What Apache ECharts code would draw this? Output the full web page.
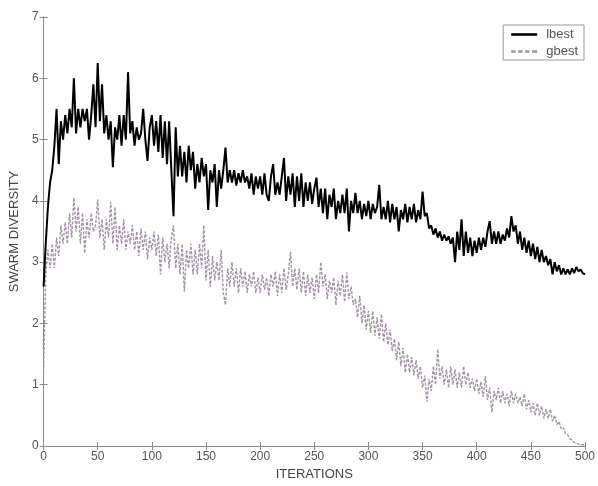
<!DOCTYPE html>
<html>
<head>
<meta charset="utf-8">
<script src="https://cdn.jsdelivr.net/npm/echarts@6/dist/echarts.min.js"></script>
<style>
  html, body { margin: 0; padding: 0; background: #fff; }
  #chart { width: 598px; height: 486px; }
</style>
</head>
<body>
<div id="chart"></div>
<script>
// iterations sampled every 2 steps
var step = 2;
var lbest = [
  2.6, 3.3, 3.9, 4.3, 4.5, 4.9, 5.5, 4.6, 5.3, 5.0,
  5.4, 5.1, 5.5, 5.2, 6.0, 5.1, 5.5, 5.2, 5.5, 5.3,
  5.5, 5.0, 5.4, 5.9, 5.2, 6.25, 5.3, 5.9, 5.1, 5.4,
  5.0, 5.3, 4.55, 5.2, 5.0, 5.4, 4.9, 5.4, 5.0, 6.1,
  5.1, 5.3, 4.9, 5.2, 5.0, 5.1, 5.5, 5.0, 4.65, 5.2,
  5.4, 4.9, 5.3, 4.8, 5.4, 4.7, 5.3, 4.6, 5.3, 4.5,
  3.75, 5.2, 4.4, 4.9, 4.4, 4.8, 4.3, 4.9, 4.5, 4.8,
  4.2, 4.6, 4.3, 4.7, 4.4, 4.6, 3.85, 4.5, 4.3, 4.6,
  3.9, 4.5, 4.2, 4.5, 4.87, 4.3, 4.5, 4.3, 4.5, 4.25,
  4.45, 4.3, 4.5, 4.3, 4.4, 4.2, 4.45, 4.1, 4.4, 4.2,
  4.4, 4.1, 4.45, 4.1, 4.0, 4.4, 4.6, 4.1, 4.3, 4.1,
  4.4, 4.7, 4.0, 4.4, 4.1, 4.45, 3.9, 4.4, 4.0, 4.45,
  3.9, 4.3, 4.0, 4.3, 3.95, 4.2, 4.38, 3.9, 4.2, 3.8,
  4.2, 3.7, 4.1, 3.9, 4.2, 3.7, 4.0, 3.8, 4.1, 3.8,
  4.2, 3.5, 4.0, 3.8, 4.13, 3.8, 4.0, 3.7, 3.95, 3.75,
  4.0, 3.7, 3.95, 3.8, 3.9, 4.26, 3.7, 3.9, 3.7, 4.0,
  3.65, 3.95, 3.7, 3.9, 3.5, 3.85, 3.7, 3.95, 3.65, 3.9,
  3.7, 3.95, 3.65, 3.85, 3.7, 4.15, 3.75, 3.8, 3.55, 3.6,
  3.45, 3.55, 3.4, 3.5, 3.35, 3.45, 3.35, 3.42, 3.3, 3.4,
  3.0, 3.5, 3.2, 3.7, 3.1, 3.5, 3.15, 3.4, 3.1, 3.35,
  3.15, 3.4, 3.2, 3.4, 3.25, 3.5, 3.67, 3.3, 3.5, 3.3,
  3.5, 3.3, 3.45, 3.35, 3.55, 3.4, 3.75, 3.5, 3.6, 3.3,
  3.5, 3.2, 3.4, 3.15, 3.35, 3.1, 3.3, 3.05, 3.25, 3.0,
  3.2, 3.0, 3.1, 2.95, 3.05, 2.8, 3.0, 2.85, 2.95, 2.8,
  2.9, 2.8, 2.88, 2.8, 2.9, 2.82, 2.92, 2.85, 2.88, 2.82,
  2.8
];
var gbest = [
  1.2, 2.8, 3.2, 2.9, 3.3, 2.9, 3.4, 3.1, 3.6, 3.3,
  3.65, 3.3, 3.8, 3.4, 4.05, 3.5, 3.9, 3.3, 3.8, 3.15,
  3.7, 3.4, 3.8, 3.5, 3.6, 4.02, 3.4, 3.7, 3.2, 3.7,
  3.4, 3.98, 3.3, 3.9, 3.2, 3.6, 3.3, 3.7, 3.2, 3.5,
  3.3, 3.6, 3.2, 3.5, 3.1, 3.55, 3.2, 3.5, 3.05, 3.4,
  3.2, 3.5, 3.1, 3.45, 2.8, 3.4, 3.0, 3.3, 2.9, 3.4,
  3.6, 2.9, 3.3, 2.8, 3.3, 2.52, 3.2, 2.9, 3.3, 2.8,
  3.2, 2.8, 3.3, 2.9, 3.6, 2.7, 3.2, 2.6, 3.1, 2.7,
  3.0, 2.7, 3.2, 2.5, 2.3, 2.9, 2.6, 3.0, 2.6, 2.9,
  2.5, 2.9, 2.6, 2.85, 2.5, 2.8, 2.6, 2.85, 2.5, 2.75,
  2.5, 2.8, 2.55, 2.75, 2.45, 2.8, 2.6, 2.85, 2.45, 2.8,
  2.5, 2.9, 2.55, 2.8, 3.17, 2.6, 2.9, 2.55, 2.9, 2.5,
  2.85, 2.45, 2.8, 2.5, 2.75, 2.4, 2.8, 2.5, 3.0, 2.6,
  2.8, 2.4, 2.7, 2.5, 2.75, 2.3, 2.7, 2.45, 2.8, 2.35,
  2.83, 2.4, 2.6, 2.3, 2.4, 2.1, 2.45, 2.0, 2.3, 1.9,
  2.2, 1.85, 2.2, 1.8, 2.1, 1.75, 2.15, 1.7, 2.0, 1.65,
  1.9, 1.55, 1.75, 1.4, 1.7, 1.3, 1.6, 1.2, 1.5, 1.2,
  1.45, 1.15, 1.4, 1.1, 1.3, 0.95, 1.15, 0.72, 1.1, 0.9,
  1.3, 1.0, 1.58, 1.1, 1.3, 1.0, 1.25, 0.95, 1.3, 1.0,
  1.25, 0.95, 1.2, 0.95, 1.3, 1.0, 1.2, 0.95, 1.1, 0.9,
  1.1, 0.85, 1.05, 0.8, 1.14, 0.75, 0.95, 0.55, 0.9, 0.75,
  0.95, 0.7, 0.9, 0.7, 0.85, 0.65, 0.9, 0.7, 0.85, 0.7,
  0.8, 0.65, 0.85, 0.6, 0.75, 0.55, 0.7, 0.5, 0.7, 0.5,
  0.65, 0.45, 0.6, 0.45, 0.6, 0.4, 0.5, 0.35, 0.4, 0.28,
  0.3, 0.2, 0.18, 0.12, 0.1, 0.06, 0.05, 0.03, 0.02, 0.02,
  0.02
];
var xTicks = [0, 50, 100, 150, 200, 250, 300, 350, 400, 450, 500];
var yTicks = [0, 1, 2, 3, 4, 5, 6, 7];

function pairs(arr) {
  return arr.map(function (v, i) { return [i * step, v]; });
}

var font = 'Liberation Sans, Arial, sans-serif';
var axisLineStyle = { lineStyle: { color: '#8a8a8a', width: 1 } };
var tickStyle = { inside: true, length: 4, lineStyle: { color: '#8a8a8a' } };
var solidIcon = 'path://M0,0 H30 V3 H0 Z';
var dashIcon = 'path://M0,0 H5 V3 H0 Z M8,0 H13 V3 H8 Z M16,0 H21 V3 H16 Z M24,0 H30 V3 H24 Z';

var myChart = echarts.init(document.getElementById('chart'));
var option = {
    backgroundColor: '#fff',
    animation: false,
    grid: { left: 42, right: 10, top: 17, bottom: 39, show: false },
    legend: {
        orient: 'vertical',
        right: 14,
        top: 25,
        itemWidth: 26,
        itemHeight: 3,
        itemGap: 4,
        padding: [3, 6, 2, 8],
        borderColor: '#999',
        borderWidth: 1,
        backgroundColor: '#fff',
        textStyle: { fontFamily: font, fontSize: 13, color: '#555', padding: [0, 0, 0, 4] },
        data: [
            { name: 'lbest', icon: solidIcon },
            { name: 'gbest', icon: dashIcon }
        ]
    },
    xAxis: [
        {
            type: 'value', min: 0, max: 500, interval: 50,
            name: 'ITERATIONS', nameLocation: 'middle', nameGap: 22,
            nameTextStyle: { fontFamily: font, fontSize: 13, color: '#444' },
            axisLine: axisLineStyle, axisTick: tickStyle,
            axisLabel: { fontFamily: font, fontSize: 12, color: '#555', margin: 5,
                formatter: function (v) { return xTicks.indexOf(v) >= 0 ? String(v) : ''; } },
            splitLine: { show: false }
        },
        {
            type: 'value', min: 0, max: 500, interval: 50, position: 'top',
            axisLine: axisLineStyle, axisTick: tickStyle,
            axisLabel: { show: false }, splitLine: { show: false }
        }
    ],
    yAxis: [
        {
            type: 'value', min: 0, max: 7, interval: 1,
            name: 'SWARM DIVERSITY', nameLocation: 'middle', nameGap: 17,
            nameTextStyle: { fontFamily: font, fontSize: 13, color: '#444' },
            axisLine: axisLineStyle, axisTick: tickStyle,
            axisLabel: { fontFamily: font, fontSize: 12, color: '#555', margin: 5,
                formatter: function (v) { return yTicks.indexOf(v) >= 0 ? String(v) : ''; } },
            splitLine: { show: false }
        },
        {
            type: 'value', min: 0, max: 7, interval: 1, position: 'right',
            axisLine: axisLineStyle, axisTick: tickStyle,
            axisLabel: { show: false }, splitLine: { show: false }
        }
    ],
    series: [
        {
            name: 'gbest', type: 'line', showSymbol: false, symbol: 'none',
            xAxisIndex: 0, yAxisIndex: 0,
            lineStyle: { color: '#a393a6', width: 1.4, type: [3, 1.5] },
            itemStyle: { color: '#a393a6' },
            data: pairs(gbest)
        },
        {
            name: 'lbest', type: 'line', showSymbol: false, symbol: 'none',
            xAxisIndex: 0, yAxisIndex: 0,
            lineStyle: { color: '#000', width: 2 },
            itemStyle: { color: '#000' },
            data: pairs(lbest)
        }
    ]
};
myChart.setOption(option);
</script>
</body>
</html>
